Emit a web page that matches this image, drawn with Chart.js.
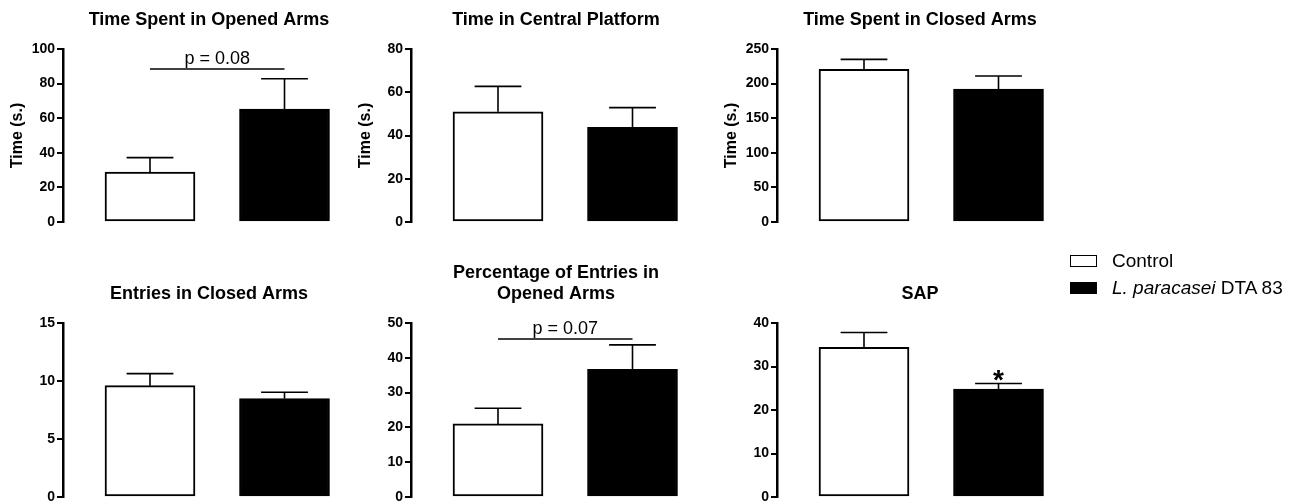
<!DOCTYPE html>
<html>
<head>
<meta charset="utf-8">
<script src="https://cdn.jsdelivr.net/npm/chart.js@4.4.1/dist/chart.umd.min.js"></script>
<style>
  body { margin: 0; width: 1304px; height: 504px; overflow: hidden; background: #fff; position: relative;
         font-family: "Liberation Sans", Arial, sans-serif; }
  canvas { position: absolute; }
  #legend { position: absolute; left: 1070px; top: 0; color: #000; font-size: 19px; z-index: 2; }
  #legend .row { position: absolute; left: 0; height: 24px; line-height: 24px; white-space: nowrap; padding-left: 42px; }
  #legend .box { position: absolute; left: 0; top: 6px; width: 27px; height: 12px; box-sizing: border-box; border: 1.6px solid #000; }
</style>
</head>
<body>
<div id="legend">
  <div class="row" style="top:249px"><span class="box" style="background:#fff"></span>Control</div>
  <div class="row" style="top:276px"><span class="box" style="background:#000"></span><i>L. paracasei</i> DTA 83</div>
</div>

<script>
// data
const titles = [
  ['Time Spent in Opened Arms'],
  ['Time in Central Platform'],
  ['Time Spent in Closed Arms'],
  ['Entries in Closed Arms'],
  ['Percentage of Entries in', 'Opened Arms'],
  ['SAP']
];
const groups = ['Control', 'L. paracasei DTA 83'];
const controlMean = [28.9, 51.0, 220.5, 9.6, 21.0, 34.4];
const controlSem = [8.3, 11.7, 14.5, 1.04, 4.5, 3.4];
const dtaMean = [65.3, 43.8, 192, 8.48, 36.7, 24.8];
const dtaSem = [17.5, 9.1, 19, 0.55, 7.0, 1.3];
const yMax = [100, 80, 250, 15, 50, 40];
const yStep = [20, 20, 50, 5, 10, 10];
const yTitles = ['Time (s.)', 'Time (s.)', 'Time (s.)', '', '', ''];
const pValues = ['p = 0.08', '', '', '', 'p = 0.07', ''];
const pLevels = [88.4, 0, 0, 0, 45.4, 0];
const stars = ['', '', '', '', '', '*'];

const FONT = "'Liberation Sans', Arial, sans-serif";
Chart.defaults.font.family = FONT;
Chart.defaults.color = '#000';

// page layout
const cols = [{axisX: 63, titleX: 209}, {axisX: 411, titleX: 556}, {axisX: 777, titleX: 920}];
const rows = [{top: 0, plotTop: 49, plotBottom: 222, titleY: 20}, {top: 240, plotTop: 323, plotBottom: 497, titleY: 294.5}];
const AXIS_W = 63, PAD_B = 12, TITLE_LH = 18 * 1.2, FIRST = 87, GAP = 134.5;

// error bars, bracket and asterisk
function marks(i) {
  return {
    id: 'marks' + i,
    afterDatasetsDraw(chart) {
      const ctx = chart.ctx, y = chart.scales.y;
      const bars = chart.getDatasetMeta(0).data;
      const means = [controlMean[i], dtaMean[i]];
      const sems = [controlSem[i], dtaSem[i]];
      ctx.save();
      ctx.strokeStyle = '#000';
      ctx.lineWidth = 1.6;
      bars.forEach((bar, k) => {
        const top = y.getPixelForValue(means[k] + sems[k]);
        const half = bar.width * 0.26;
        ctx.beginPath();
        ctx.moveTo(bar.x, bar.y);
        ctx.lineTo(bar.x, top);
        ctx.moveTo(bar.x - half, top);
        ctx.lineTo(bar.x + half, top);
        ctx.stroke();
      });
      if (pValues[i]) {
        const py = y.getPixelForValue(pLevels[i]);
        ctx.beginPath();
        ctx.moveTo(bars[0].x, py);
        ctx.lineTo(bars[1].x, py);
        ctx.stroke();
        ctx.fillStyle = '#000';
        ctx.font = '18px ' + FONT;
        ctx.textAlign = 'center';
        ctx.textBaseline = 'alphabetic';
        ctx.fillText(pValues[i], (bars[0].x + bars[1].x) / 2, py - 5);
      }
      if (stars[i]) {
        const top = y.getPixelForValue(means[1] + sems[1]);
        ctx.fillStyle = '#000';
        ctx.font = 'bold 28px ' + FONT;
        ctx.textAlign = 'center';
        ctx.textBaseline = 'alphabetic';
        ctx.fillText(stars[i], bars[1].x, top + 6);
      }
      ctx.restore();
    }
  };
}

titles.forEach((title, i) => {
  const col = cols[i % 3], row = rows[Math.floor(i / 3)];
  const left = col.axisX - AXIS_W;
  const width = 2 * (col.titleX - left);
  const height = row.plotBottom + PAD_B - row.top;
  const firstLine = row.titleY - (title.length - 1) * TITLE_LH;
  const padTop = firstLine - row.top - TITLE_LH / 2;
  const padBottom = row.plotTop - row.top - padTop - title.length * TITLE_LH;
  const xMin = 1 - FIRST / GAP;
  const xMax = xMin + (width - AXIS_W) / GAP;

  const cv = document.createElement('canvas');
  cv.width = width; cv.height = height;
  cv.style.left = left + 'px'; cv.style.top = row.top + 'px';
  document.body.appendChild(cv);

  new Chart(cv, {
    type: 'bar',
    data: {
      datasets: [{
        label: title.join(' '),
        data: [{x: 1, y: controlMean[i]}, {x: 2, y: dtaMean[i]}],
        backgroundColor: ['#fff', '#000'],
        borderColor: '#000',
        borderWidth: 2,
        borderSkipped: false,
        barThickness: 90
      }]
    },
    options: {
      responsive: false,
      animation: false,
      events: [],
      layout: {padding: {left: 0, right: 0, top: 0, bottom: PAD_B}},
      plugins: {
        legend: {display: false},
        tooltip: {enabled: false},
        title: {
          display: true,
          text: title,
          color: '#000',
          font: {size: 18, weight: 'bold', lineHeight: 1.2},
          padding: {top: padTop, bottom: padBottom}
        }
      },
      scales: {
        x: {type: 'linear', display: false, offset: false, min: xMin, max: xMax},
        y: {
          min: 0, max: yMax[i],
          afterFit(scale) { scale.width = AXIS_W; },
          border: {display: true, color: '#000', width: 2.5},
          grid: {display: true, drawOnChartArea: false, drawTicks: true, tickLength: 6, color: '#000', lineWidth: 2},
          ticks: {stepSize: yStep[i], padding: 2, color: '#000', font: {size: 14, weight: 'bold'}},
          title: {
            display: yTitles[i] !== '',
            text: yTitles[i],
            color: '#000',
            font: {size: 16, weight: 'bold', lineHeight: 1.2},
            padding: {top: col.axisX - 45 - left - 9.6, bottom: 0}
          }
        }
      }
    },
    plugins: [marks(i)]
  });
});
</script>
</body>
</html>
